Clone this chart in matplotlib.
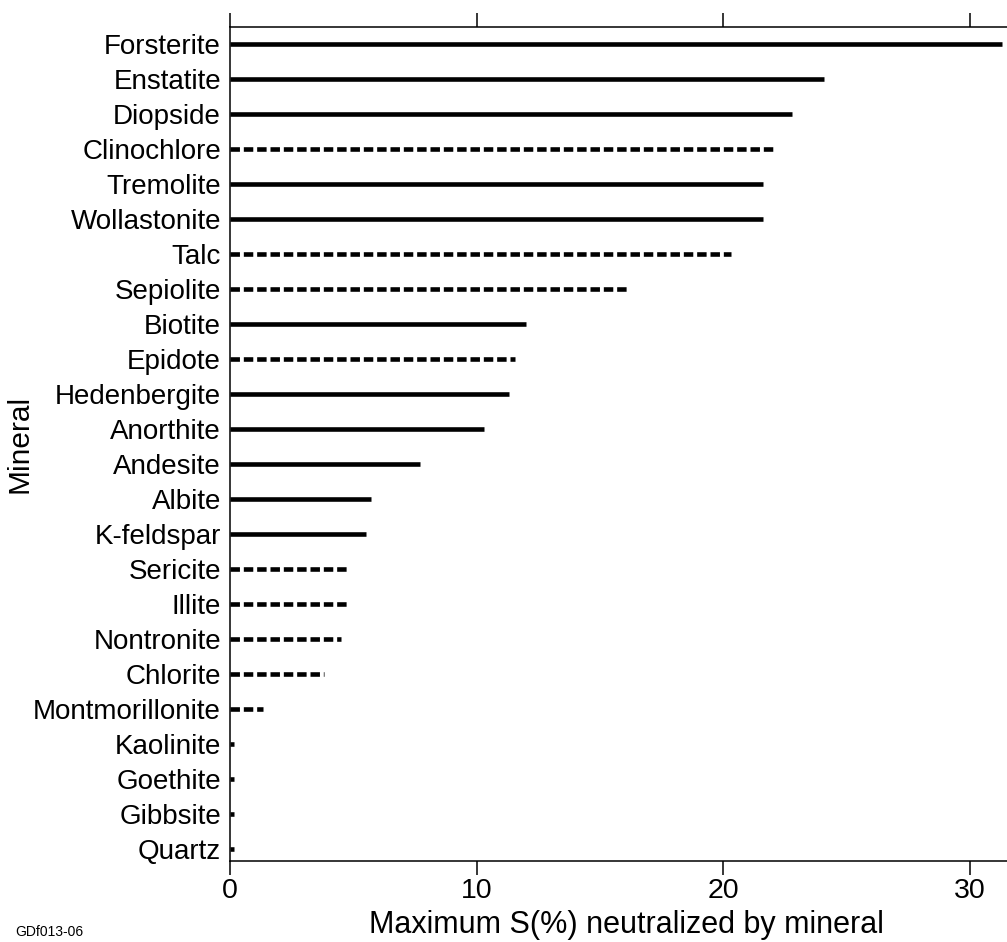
import matplotlib
matplotlib.use("Agg")
import matplotlib.pyplot as plt

plt.rcParams['font.family'] = ['Liberation Sans', 'DejaVu Sans']
plt.rcParams['lines.scale_dashes'] = False

minerals = ['Forsterite', 'Enstatite', 'Diopside', 'Clinochlore', 'Tremolite',
            'Wollastonite', 'Talc', 'Sepiolite', 'Biotite', 'Epidote',
            'Hedenbergite', 'Anorthite', 'Andesite', 'Albite', 'K-feldspar',
            'Sericite', 'Illite', 'Nontronite', 'Chlorite', 'Montmorillonite',
            'Kaolinite', 'Goethite', 'Gibbsite', 'Quartz']
max_s = [31.28, 24.1, 22.8, 22.1, 21.6,
         21.6, 20.3, 16.1, 12.0, 11.55,
         11.3, 10.3, 7.7, 5.7, 5.5,
         4.82, 4.73, 4.49, 3.82, 1.34,
         0.16, 0.16, 0.16, 0.16]
dashed = [False, False, False, True, False,
          False, True, True, False, True,
          False, False, False, False, False,
          True, True, True, True, True,
          True, False, False, False]

fig = plt.figure(figsize=(10.07, 9.42), dpi=100)
ax = fig.add_axes([230 / 1007, 1 - 861 / 942, 777 / 1007, (861 - 27) / 942])

for i, (v, d) in enumerate(zip(max_s, dashed)):
    ls = (0, (6.8, 2.8)) if d else '-'
    ax.plot([0, v], [i, i], color='black', lw=3.3, linestyle=ls,
            solid_capstyle='butt', dash_capstyle='butt')

ax.set_xlim(0, 31.5)
ax.set_ylim(len(minerals) - 1 + 0.343, -0.486)
ax.set_yticks(range(len(minerals)))
ax.set_yticklabels(minerals)
ax.set_xticks([0, 10, 20, 30])

for s in ['top', 'bottom', 'left']:
    ax.spines[s].set_linewidth(1.1)
ax.spines['right'].set_visible(False)

ax.tick_params(axis='y', length=0, pad=6.5, labelsize=20)
ax.tick_params(axis='x', which='both', top=True, bottom=True, labeltop=False,
               direction='out', length=10, width=1.1, pad=2, labelsize=20.5)

ax.set_xlabel('Maximum S(%) neutralized by mineral', fontsize=22)
ax.xaxis.set_label_coords(0.5097, -0.095, transform=ax.transAxes)
ax.xaxis.label.set_va('bottom')
ax.set_ylabel('Mineral', fontsize=21.5)
ax.yaxis.set_label_coords(-0.2535, 0.5, transform=ax.transAxes)

fig.text(15 / 1007, 1 - 932 / 942, 'GDf013-06', fontsize=10, va='center',
         family=['Liberation Sans Narrow', 'Liberation Sans'])

fig.savefig('out.png', dpi=100)
